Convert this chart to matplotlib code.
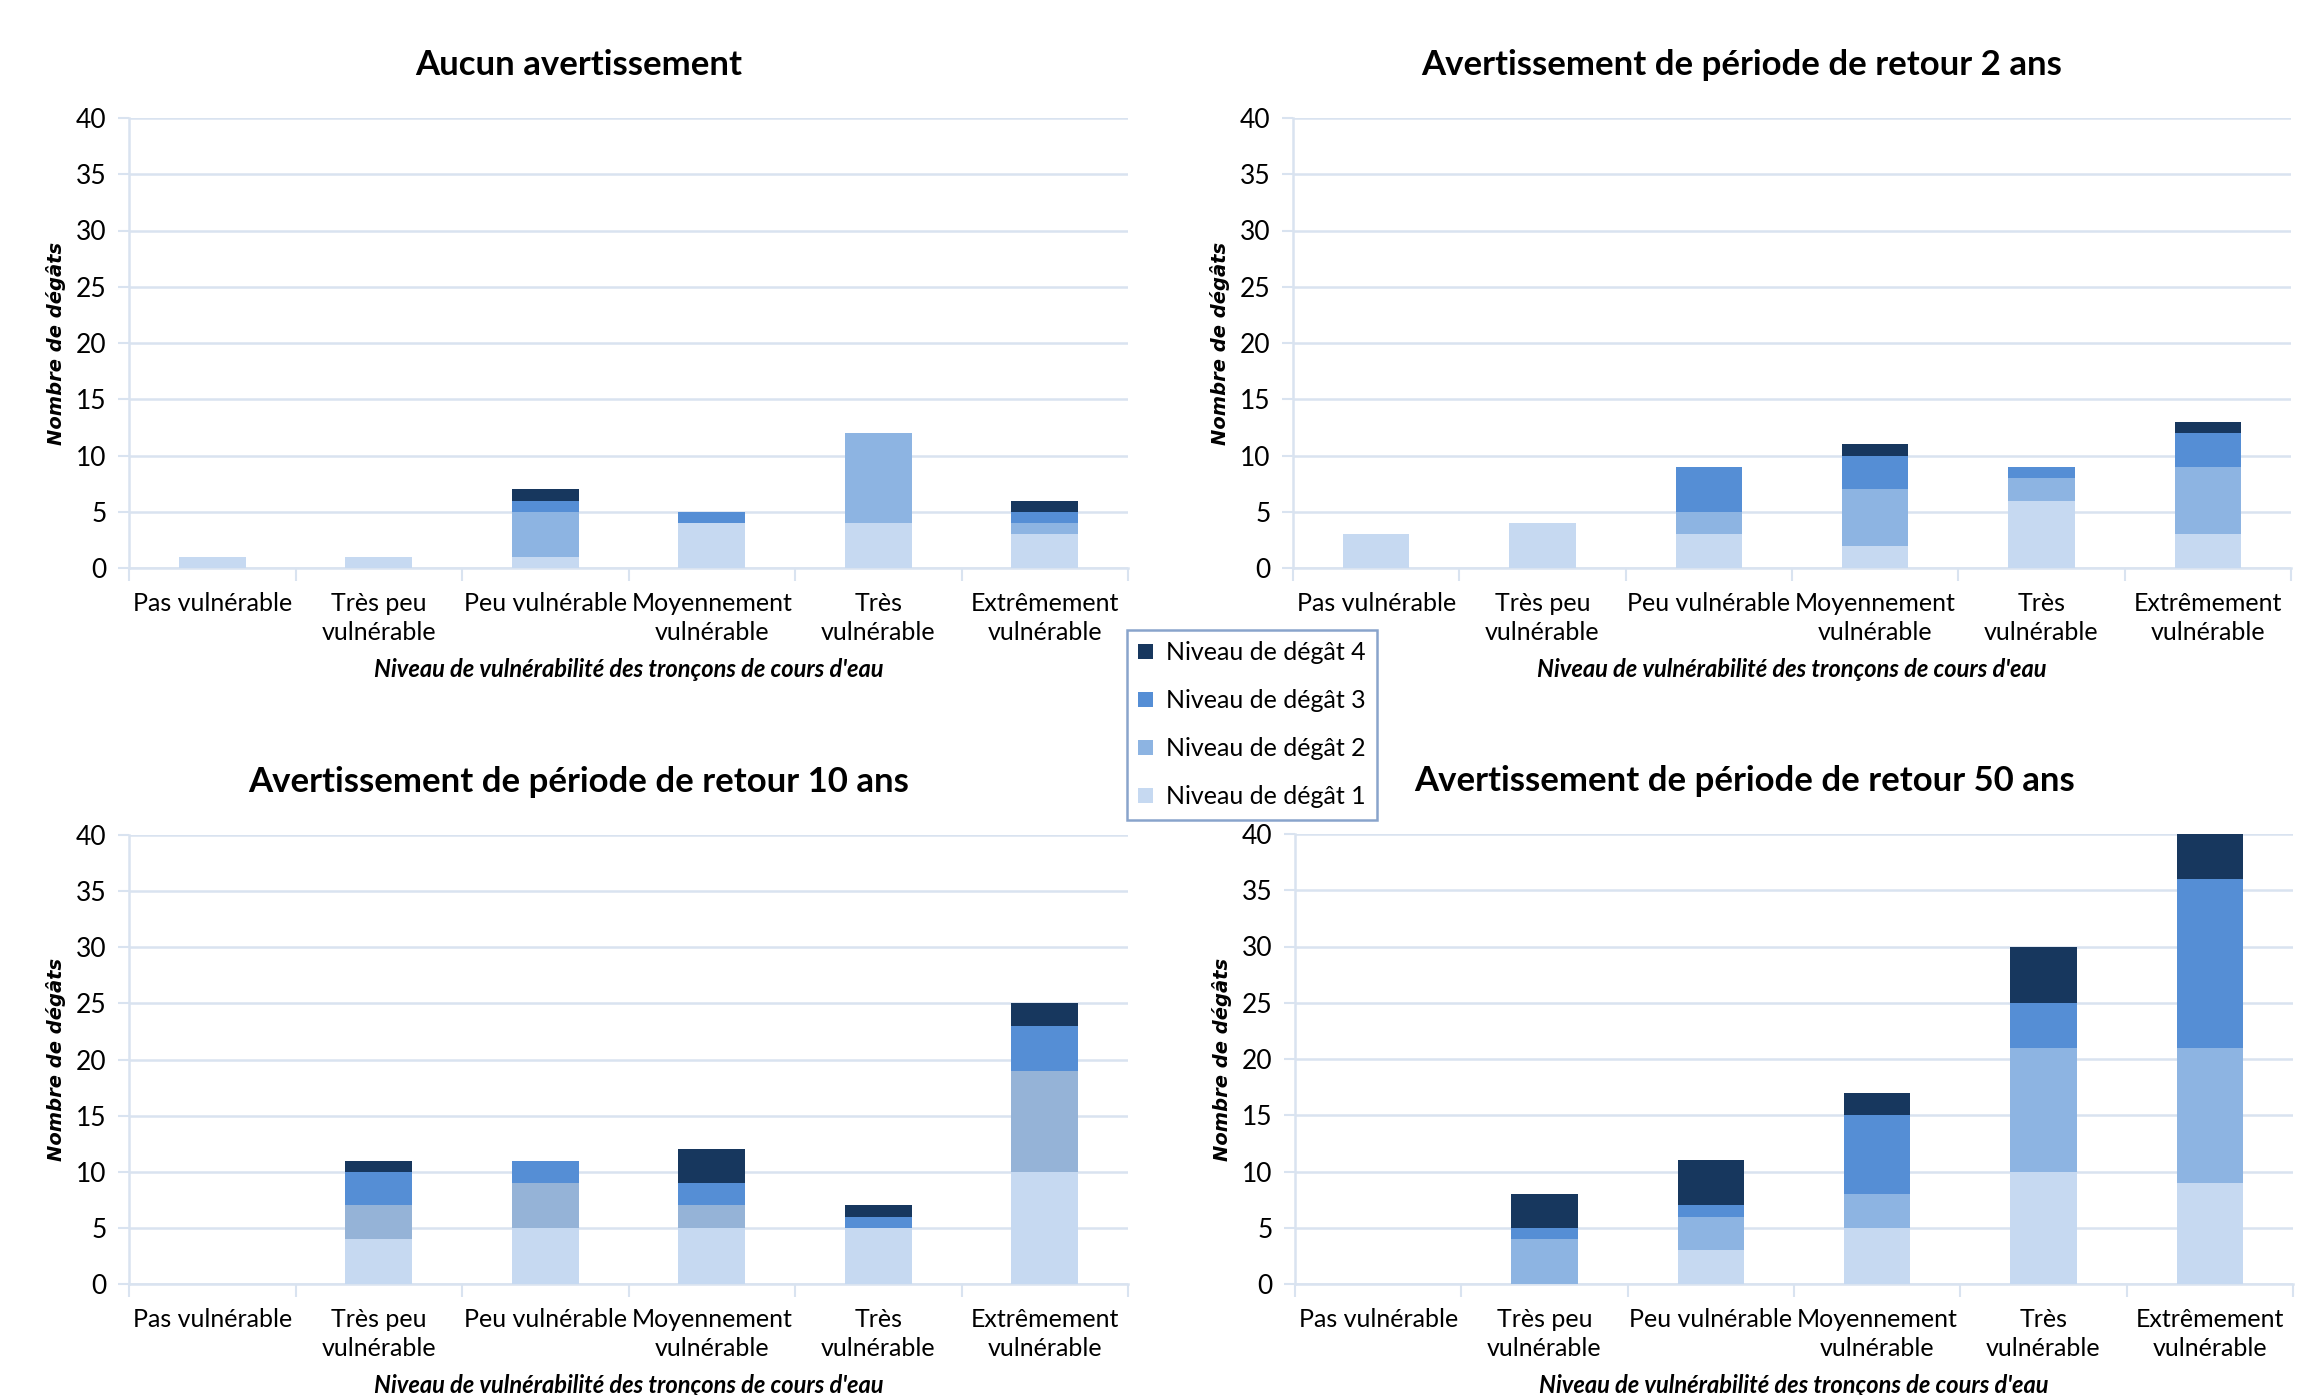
import numpy as np
import matplotlib
matplotlib.use("Agg")
import matplotlib.pyplot as plt
from matplotlib.patches import Patch

W, H = 2297, 1395
DPI = 100

categories = ["Pas vulnérable", "Très peu\nvulnérable", "Peu vulnérable",
              "Moyennement\nvulnérable", "Très\nvulnérable", "Extrêmement\nvulnérable"]
levels = ["Niveau de dégât 1", "Niveau de dégât 2", "Niveau de dégât 3", "Niveau de dégât 4"]

titles = ["Aucun avertissement",
          "Avertissement de période de retour 2 ans",
          "Avertissement de période de retour 10 ans",
          "Avertissement de période de retour 50 ans"]

# damage counts per level (rows: level 1..4, cols: vulnerability class)
aucun = [[1, 1, 1, 4, 4, 3],
         [0, 0, 4, 0, 8, 1],
         [0, 0, 1, 1, 0, 1],
         [0, 0, 1, 0, 0, 1]]
retour_2 = [[3, 4, 3, 2, 6, 3],
            [0, 0, 2, 5, 2, 6],
            [0, 0, 4, 3, 1, 3],
            [0, 0, 0, 1, 0, 1]]
retour_10 = [[0, 4, 5, 5, 5, 10],
             [0, 3, 4, 2, 0, 9],
             [0, 3, 2, 2, 1, 4],
             [0, 1, 0, 3, 1, 2]]
retour_50 = [[0, 0, 3, 5, 10, 9],
             [0, 4, 3, 3, 11, 12],
             [0, 1, 1, 7, 4, 15],
             [0, 3, 4, 2, 5, 4]]

colors = ["#C6D9F1", "#8DB4E2", "#558ED5", "#17375E"]
colors_10 = ["#C6D9F1", "#95B3D7", "#558ED5", "#17375E"]

font = ["Lato", "DejaVu Sans"]
grid_col = "#D9E3F0"

# axes boxes in pixels: left, right, top, bottom
boxes = [(129, 1128, 118, 568),
         (1293, 2291, 118, 568),
         (129, 1128, 835, 1284),
         (1295, 2293, 834, 1284)]

fig = plt.figure(figsize=(W / DPI, H / DPI), dpi=DPI)

datasets = [aucun, retour_2, retour_10, retour_50]
x = np.arange(len(categories))

for k, (l, r, t, b) in enumerate(boxes):
    ax = fig.add_axes([l / W, 1 - b / H, (r - l) / W, (b - t) / H])
    data = np.array(datasets[k])
    cols = colors_10 if k == 2 else colors
    bottom = np.zeros(len(categories))
    for i in range(len(levels)):
        ax.bar(x, data[i], 0.4, bottom=bottom, color=cols[i], zorder=3)
        bottom += data[i]

    ax.set_xlim(-0.5, len(categories) - 0.5)
    ax.set_ylim(0, 40)
    ax.set_yticks(range(0, 41, 5))
    ax.grid(axis="y", color=grid_col, linewidth=1.8, zorder=0)
    ax.set_axisbelow(True)

    ax.set_xticks(x)
    ax.set_xticklabels(categories, fontsize=18, family=font, linespacing=1.35)
    ax.set_xticks(np.arange(-0.5, len(categories)), minor=True)
    ax.tick_params(axis="x", which="major", length=0, pad=17)
    ax.tick_params(axis="x", which="minor", length=9, width=1.5, color=grid_col)
    ax.tick_params(axis="y", length=8, width=1.5, color=grid_col, pad=8, labelsize=19)
    for lab in ax.get_yticklabels():
        lab.set_family(font)

    for s in ["top", "right"]:
        ax.spines[s].set_visible(False)
    for s in ["left", "bottom"]:
        ax.spines[s].set_color(grid_col)
        ax.spines[s].set_linewidth(1.8)

    ax.set_title(titles[k], fontsize=25, fontweight="bold", family=font, pad=31, x=0.45)
    ax.set_ylabel("Nombre de dégâts", fontsize=14, fontweight="bold",
                  fontstyle="italic", labelpad=7)
    ax.set_xlabel("Niveau de vulnérabilité des tronçons de cours d'eau", fontsize=17,
                  fontweight="bold", fontstyle="italic", family=font, labelpad=10)

handles = [Patch(facecolor=colors[i], label=levels[i]) for i in range(3, -1, -1)]
leg = fig.legend(handles=handles, loc="upper left",
                 bbox_to_anchor=(1127 / W, 1 - 630 / H), borderaxespad=0, ncol=1,
                 prop={"family": font, "size": 18}, handlelength=0.6, handleheight=0.6,
                 handletextpad=0.5, labelspacing=1.0, borderpad=0.45,
                 fancybox=False, frameon=True)
leg.get_frame().set_edgecolor("#6C8EBF")
leg.get_frame().set_linewidth(1.8)

fig.savefig("out.png", dpi=DPI, facecolor="white")
